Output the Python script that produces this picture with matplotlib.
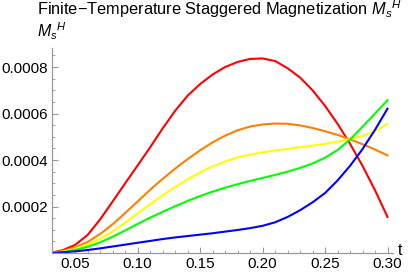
import numpy as np
import matplotlib.pyplot as plt
from matplotlib.ticker import MultipleLocator, FixedLocator

plt.rcParams['font.family'] = ['Liberation Sans', 'DejaVu Sans']
plt.rcParams['mathtext.fontset'] = 'custom'
plt.rcParams['mathtext.rm'] = 'Liberation Sans'
plt.rcParams['mathtext.it'] = 'Liberation Sans:italic'

# temperature grid and magnetization curves
t = [0.03, 0.04, 0.05, 0.06, 0.07, 0.08, 0.09, 0.10, 0.11, 0.12, 0.13, 0.14,
     0.15, 0.16, 0.17, 0.18, 0.19, 0.20, 0.21, 0.22, 0.23, 0.24, 0.25, 0.26,
     0.27, 0.28, 0.29, 0.30]

red = [0.0, 12e-6, 35e-6, 78e-6, 145e-6, 222e-6, 300e-6, 377e-6, 455e-6,
       536e-6, 612e-6, 677e-6, 727e-6, 768e-6, 800e-6, 822e-6, 835e-6,
       837e-6, 826e-6, 795e-6, 755e-6, 700e-6, 633e-6, 556e-6, 470e-6,
       375e-6, 270e-6, 155e-6]
orange = [0.0, 8e-6, 24e-6, 48e-6, 82e-6, 124e-6, 172e-6, 222e-6, 272e-6,
          319e-6, 363e-6, 404e-6, 442e-6, 476e-6, 505e-6, 528e-6, 544e-6,
          553e-6, 557e-6, 556e-6, 549e-6, 538e-6, 524e-6, 508e-6, 489e-6,
          468e-6, 445e-6, 420e-6]
yellow = [0.0, 6e-6, 18e-6, 36e-6, 61e-6, 93e-6, 130e-6, 170e-6, 210e-6,
          248e-6, 284e-6, 317e-6, 347e-6, 373e-6, 394e-6, 411e-6, 423e-6,
          433e-6, 441e-6, 448e-6, 455e-6, 462e-6, 470e-6, 479e-6, 490e-6,
          504e-6, 524e-6, 556e-6]
green = [0.0, 4e-6, 13e-6, 27e-6, 46e-6, 70e-6, 97e-6, 125e-6, 152e-6,
         177e-6, 201e-6, 224e-6, 245e-6, 264e-6, 281e-6, 296e-6, 310e-6,
         323e-6, 336e-6, 350e-6, 366e-6, 385e-6, 410e-6, 443e-6, 488e-6,
         543e-6, 600e-6, 657e-6]
blue = [0.0, 3e-6, 7e-6, 13e-6, 20e-6, 28e-6, 36e-6, 44e-6, 52e-6, 60e-6,
        67e-6, 73e-6, 79e-6, 85e-6, 92e-6, 99e-6, 107e-6, 117e-6, 132e-6,
        155e-6, 184e-6, 218e-6, 258e-6, 312e-6, 375e-6, 447e-6, 530e-6,
        621e-6]

series = [(red, (1, 0, 0)), (orange, (1, 0.5, 0)), (yellow, (1, 1, 0)),
          (green, (0, 1, 0)), (blue, (0, 0, 1))]

xticks = [0.05, 0.10, 0.15, 0.20, 0.25, 0.30]
xlabels = ["0.05", "0.10", "0.15", "0.20", "0.25", "0.30"]
yticks = [0.0002, 0.0004, 0.0006, 0.0008]
ylabels = ["0.0002", "0.0004", "0.0006", "0.0008"]

fig = plt.figure(figsize=(4.09, 2.73), dpi=100)
ax = fig.add_axes([52 / 409, 20 / 273, 341 / 409, 205 / 273])

for vals, col in series:
    ax.plot(t, vals, color=col, lw=1.5, solid_joinstyle='round')

ax.set_xlim(0.0314, 0.3044)
ax.set_ylim(0, 0.000882)

for s in ['top', 'right']:
    ax.spines[s].set_visible(False)
for s in ['left', 'bottom']:
    ax.spines[s].set_color('#999999')
    ax.spines[s].set_linewidth(0.9)

ax.xaxis.set_major_locator(FixedLocator(xticks))
ax.set_xticklabels(xlabels)
ax.yaxis.set_major_locator(FixedLocator(yticks))
ax.set_yticklabels(ylabels)
ax.xaxis.set_minor_locator(MultipleLocator(0.01))
ax.yaxis.set_minor_locator(MultipleLocator(0.00005))
ax.tick_params(which='both', direction='in', color='#999999', labelsize=11,
               labelcolor='black')
ax.tick_params(which='major', length=4, width=0.8, pad=3)
ax.tick_params(which='minor', length=2.2, width=0.6)

ax.set_title(r"Finite$-$Temperature Staggered Magnetization ${M_s}^H$",
             fontsize=11.8, pad=23.5, x=0.492)
ax.text(0.0, 1.03, r"${M_s}^H$", transform=ax.transAxes, ha='center',
        va='bottom', fontsize=11.5)
ax.text(1.015, 0.01, "t", transform=ax.transAxes, ha='left', va='center',
        fontsize=11.5)

fig.savefig("out.png", dpi=100)
